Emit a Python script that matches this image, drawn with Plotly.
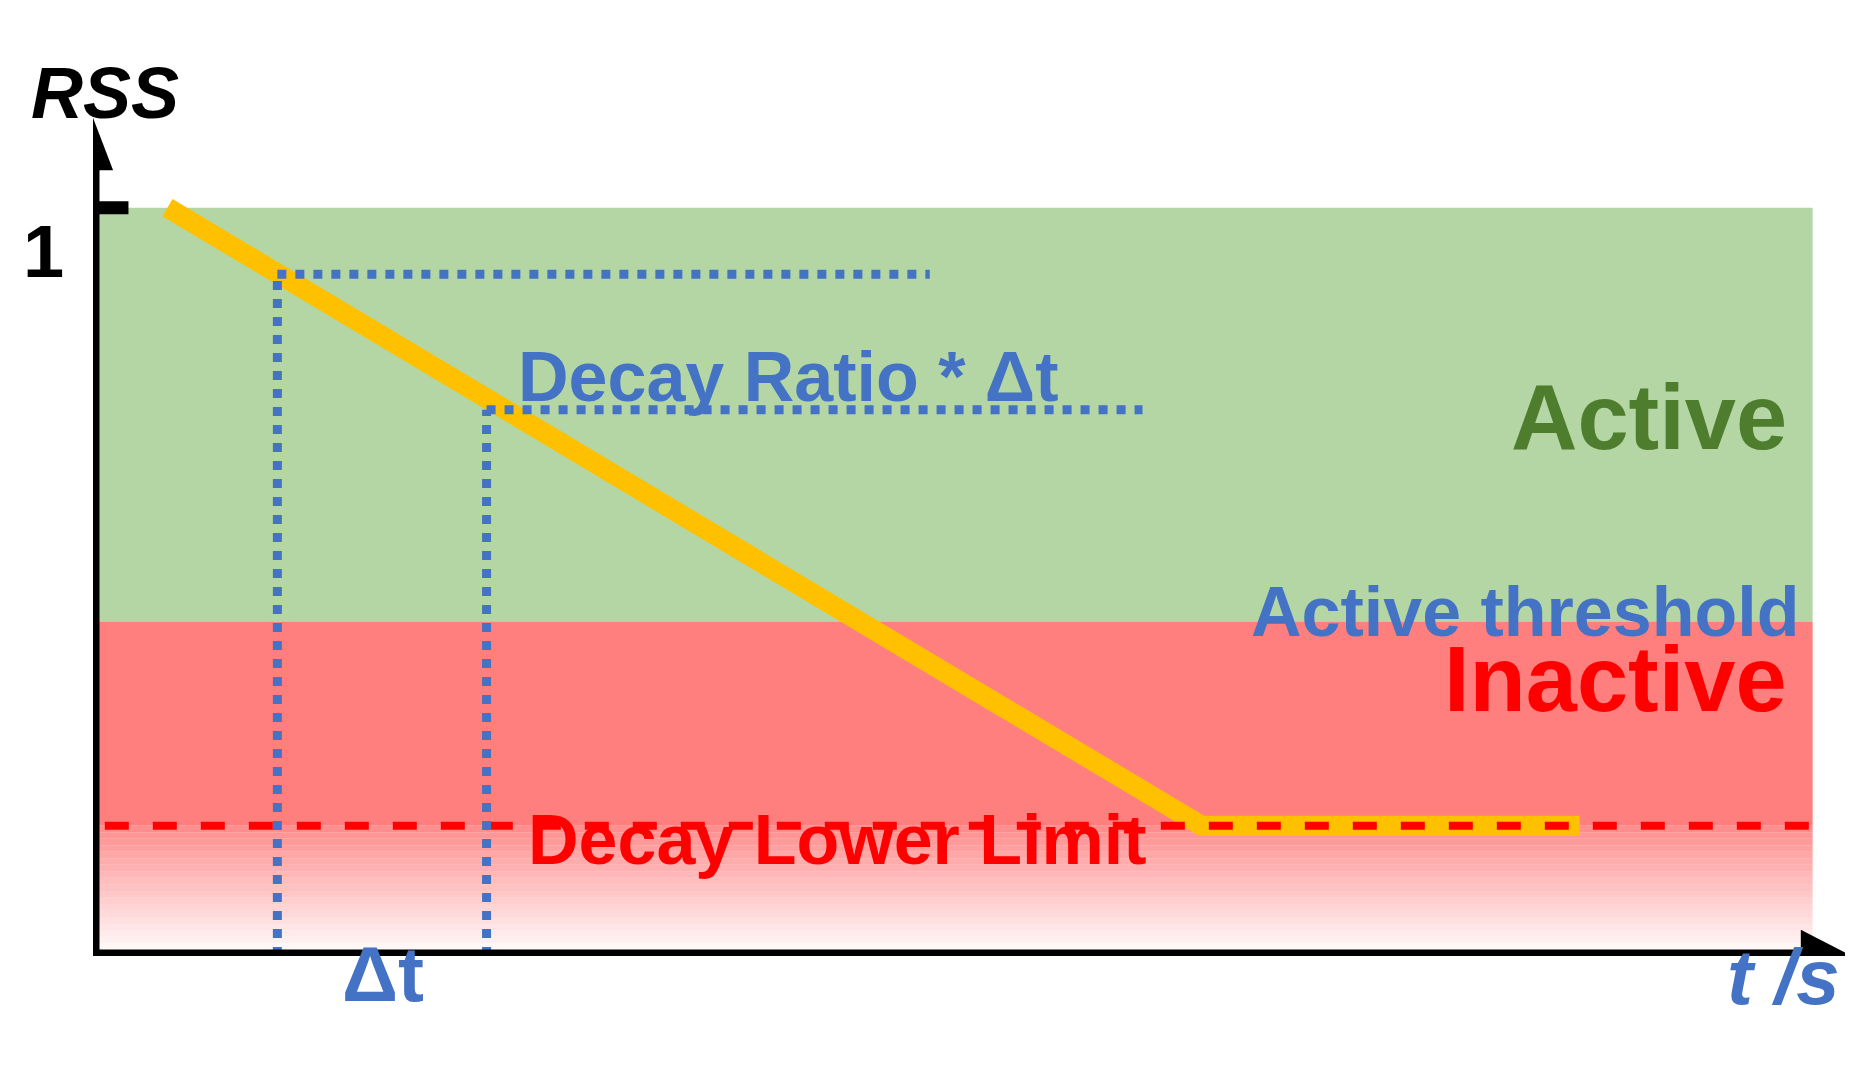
import plotly.graph_objects as go

# data (t in arbitrary units, RSS normalised)
curve_t = [0.63, 9.38, 12.58]
curve_rss = [1.0, 0.174, 0.174]
active_threshold = 0.447
decay_lower_limit = 0.174
dt_marks_t = [1.56, 3.33]
dt_marks_rss = [0.911, 0.73]
dt_marks_end = [7.08, 8.88]
region_end = 14.55
XMAX, YMAX = 14.9, 1.2

F = "Liberation Sans, Arial, sans-serif"
BLUE = "#4472c4"
fig = go.Figure()

shapes = []
shapes.append(dict(type="rect", x0=0, x1=region_end, y0=active_threshold, y1=1.0,
                   fillcolor="#b3d6a4", line_width=0, layer="below"))
shapes.append(dict(type="rect", x0=0, x1=region_end, y0=decay_lower_limit, y1=active_threshold,
                   fillcolor="#ff7f7f", line_width=0, layer="below"))
n = 20
for i in range(n):
    y0 = decay_lower_limit * i / n
    y1 = decay_lower_limit * (i + 1) / n
    op = (i + 0.5) / n
    shapes.append(dict(type="rect", x0=0, x1=region_end, y0=y0, y1=y1,
                       fillcolor=f"rgba(255,127,127,{op*0.9:.3f})", line_width=0, layer="below"))
shapes.append(dict(type="line", x0=0.1, x1=region_end, y0=decay_lower_limit, y1=decay_lower_limit,
                   line=dict(color="#ff0000", width=8, dash="dash")))
for t, r, e in zip(dt_marks_t, dt_marks_rss, dt_marks_end):
    shapes.append(dict(type="line", x0=t, x1=t, y0=0, y1=r, line=dict(color=BLUE, width=9, dash="dot")))
    shapes.append(dict(type="line", x0=t, x1=e, y0=r, y1=r, line=dict(color=BLUE, width=9, dash="dot")))
shapes.append(dict(type="line", x0=0, x1=14.6, y0=0, y1=0, line=dict(color="black", width=13)))
shapes.append(dict(type="line", x0=0, x1=0, y0=0, y1=1.08, line=dict(color="black", width=13)))
shapes.append(dict(type="line", x0=0, x1=0.3, y0=1, y1=1, line=dict(color="black", width=13)))
shapes.append(dict(type="path", path="M 14.45 -0.035 L 14.88 0 L 14.45 0.035 Z", fillcolor="black", line_width=0))
shapes.append(dict(type="path", path="M -0.17 1.05 L 0 1.12 L 0.17 1.05 Z", fillcolor="black", line_width=0))

fig.add_trace(go.Scatter(x=curve_t, y=curve_rss, mode="lines",
                         line=dict(color="#ffc000", width=20), hoverinfo="skip"))

def ann(x, y, text, size, color, italic=False, xanchor="center"):
    t = f"<b>{text}</b>"
    if italic:
        t = f"<i>{t}</i>"
    fig.add_annotation(x=x / XMAX, y=y / YMAX, xref="paper", yref="paper", text=t,
                       showarrow=False, xanchor=xanchor,
                       font=dict(family=F, size=size, color=color))

ann(-0.42, 1.0, "1", 74, "black")
ann(0.1, 1.21, "RSS", 72, "black", italic=True)
ann(5.88, 0.828, "Decay Ratio * Δt", 70, BLUE)
ann(14.35, 0.72, "Active", 92, "#4e7d2e", xanchor="right")
ann(14.45, 0.46, "Active threshold", 70, BLUE, xanchor="right")
ann(14.35, 0.3, "Inactive", 92, "#ff0000", xanchor="right")
ann(6.3, 0.1, "Decay Lower Limit", 70, "#ff0000")
ann(2.45, -0.085, "Δt", 78, BLUE)
ann(14.3, -0.09, "t /s", 78, BLUE, italic=True)

fig.update_layout(
    width=1853, height=1071, shapes=shapes, showlegend=False,
    margin=dict(l=85, r=7, t=50, b=123),
    plot_bgcolor="white", paper_bgcolor="white",
    xaxis=dict(range=[0, XMAX], visible=False, fixedrange=True),
    yaxis=dict(range=[0, YMAX], visible=False, fixedrange=True),
)
fig.write_html("out.html")
